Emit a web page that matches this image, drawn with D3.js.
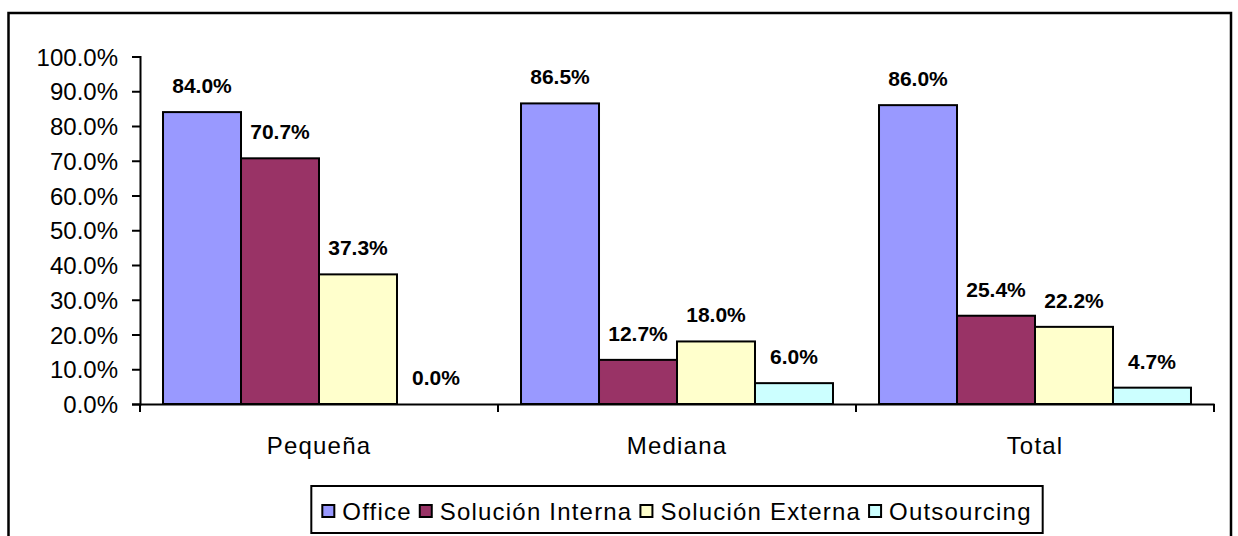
<!DOCTYPE html>
<html>
<head>
<meta charset="utf-8">
<script src="https://cdn.jsdelivr.net/npm/d3@7"></script>
<style>
  body { margin: 0; background: #fff; }
  text { font-family: "Liberation Sans", Arial, sans-serif; fill: #000; }
</style>
</head>
<body>
<script>
var categories = ["Pequeña", "Mediana", "Total"];
var seriesNames = ["Office", "Solución Interna", "Solución Externa", "Outsourcing"];
var seriesColors = ["#9999FF", "#993366", "#FFFFCC", "#CCFFFF"];
var office = [84.0, 86.5, 86.0];
var solInterna = [70.7, 12.7, 25.4];
var solExterna = [37.3, 18.0, 22.2];
var outsourcing = [0.0, 6.0, 4.7];
var yTicks = [0, 10, 20, 30, 40, 50, 60, 70, 80, 90, 100];

var seriesValues = [office, solInterna, solExterna, outsourcing];

var svg_width = 1238;
var svg_height = 536;
var svg = d3.select("body")
    .append("svg")
    .attr("width", svg_width)
    .attr("height", svg_height);

// outer frame
svg.append("rect")
    .attr("x", 8.5).attr("y", 13)
    .attr("width", 1222.5).attr("height", 540)
    .attr("fill", "none")
    .attr("stroke", "#000")
    .attr("stroke-width", 2.5);

var plotLeft = 140, plotRight = 1214, plotTop = 56.5, plotBottom = 404;

var x0 = d3.scaleBand().domain(categories).range([plotLeft, plotRight]).padding(0);
var x1 = d3.scaleBand().domain(d3.range(seriesNames.length))
    .range([0, x0.bandwidth()]).paddingInner(0).paddingOuter(0.295);
var y = d3.scaleLinear().domain([0, 100]).range([plotBottom, plotTop]);

// bars
var groups = svg.selectAll("g.cat")
    .data(categories)
    .enter()
    .append("g")
    .attr("class", "cat")
    .attr("transform", function (d) { return "translate(" + x0(d) + ",0)"; });

groups.each(function (cat, ci) {
    var g = d3.select(this);
    var items = seriesValues.map(function (arr, si) { return { si: si, v: arr[ci] }; });
    g.selectAll("rect")
        .data(items)
        .enter()
        .append("rect")
        .attr("x", function (d) { return x1(d.si); })
        .attr("y", function (d) { return y(d.v); })
        .attr("width", x1.bandwidth())
        .attr("height", function (d) { return plotBottom - y(d.v); })
        .attr("fill", function (d) { return seriesColors[d.si]; })
        .attr("stroke", function (d) { return d.v > 0 ? "#000" : "none"; })
        .attr("stroke-width", 2);
    g.selectAll("text.val")
        .data(items)
        .enter()
        .append("text")
        .attr("class", "val")
        .attr("x", function (d) { return x1(d.si) + x1.bandwidth() / 2; })
        .attr("y", function (d) { return y(d.v) - 19; })
        .attr("text-anchor", "middle")
        .style("font-size", "21px")
        .style("font-weight", "bold")
        .text(function (d) { return d.v.toFixed(1) + "%"; });
});

// y axis
var yAxis = d3.axisLeft(y).tickValues(yTicks).tickSize(8).tickPadding(14)
    .tickFormat(function (d) { return d.toFixed(1) + "%"; });
var gy = svg.append("g").attr("transform", "translate(" + plotLeft + ",0)").call(yAxis);
gy.attr("font-family", null).attr("font-size", 24);
gy.select(".domain").attr("stroke", "#000").attr("stroke-width", 2);
gy.selectAll(".tick line").attr("stroke", "#000").attr("stroke-width", 2);
gy.selectAll(".tick text")
    .style("font-size", "24px")
    .attr("dy", "0.36em");

// x axis
var xAxis = d3.axisBottom(x0).tickSize(0).tickPadding(33);
var gx = svg.append("g").attr("transform", "translate(0," + plotBottom + ")").call(xAxis);
gx.attr("font-family", null).attr("font-size", 24);
gx.select(".domain").attr("stroke", "#000").attr("stroke-width", 2);
gx.selectAll(".tick text")
    .style("font-size", "24px")
    .style("letter-spacing", "1.2px");
// boundary tick marks
var bounds = categories.map(function (c) { return x0(c); }).concat([plotRight]);
gx.selectAll("line.bound")
    .data(bounds)
    .enter()
    .append("line")
    .attr("class", "bound")
    .attr("x1", function (d) { return d; })
    .attr("x2", function (d) { return d; })
    .attr("y1", 0).attr("y2", 8)
    .attr("stroke", "#000").attr("stroke-width", 2);

// legend
var legend = svg.append("g");
var lbox = legend.append("rect")
    .attr("fill", "#fff").attr("stroke", "#000").attr("stroke-width", 2);
var lx = 0;
seriesNames.forEach(function (name, i) {
    var it = legend.append("g").attr("transform", "translate(" + lx + ",0)");
    it.append("rect")
        .attr("x", 0).attr("y", -15)
        .attr("width", 12).attr("height", 12)
        .attr("fill", seriesColors[i])
        .attr("stroke", "#000").attr("stroke-width", 2);
    var t = it.append("text")
        .attr("x", 20).attr("y", 0)
        .style("font-size", "24px")
        .style("letter-spacing", "1.2px")
        .text(name);
    lx += 20 + t.node().getComputedTextLength() + 8;
});
var totalW = lx - 8;
var cx = (plotLeft + plotRight) / 2;
var lstart = cx - totalW / 2;
legend.attr("transform", "translate(" + lstart + ",520)");
lbox.attr("x", -11).attr("y", -34).attr("width", totalW + 22).attr("height", 47);
</script>
</body>
</html>
